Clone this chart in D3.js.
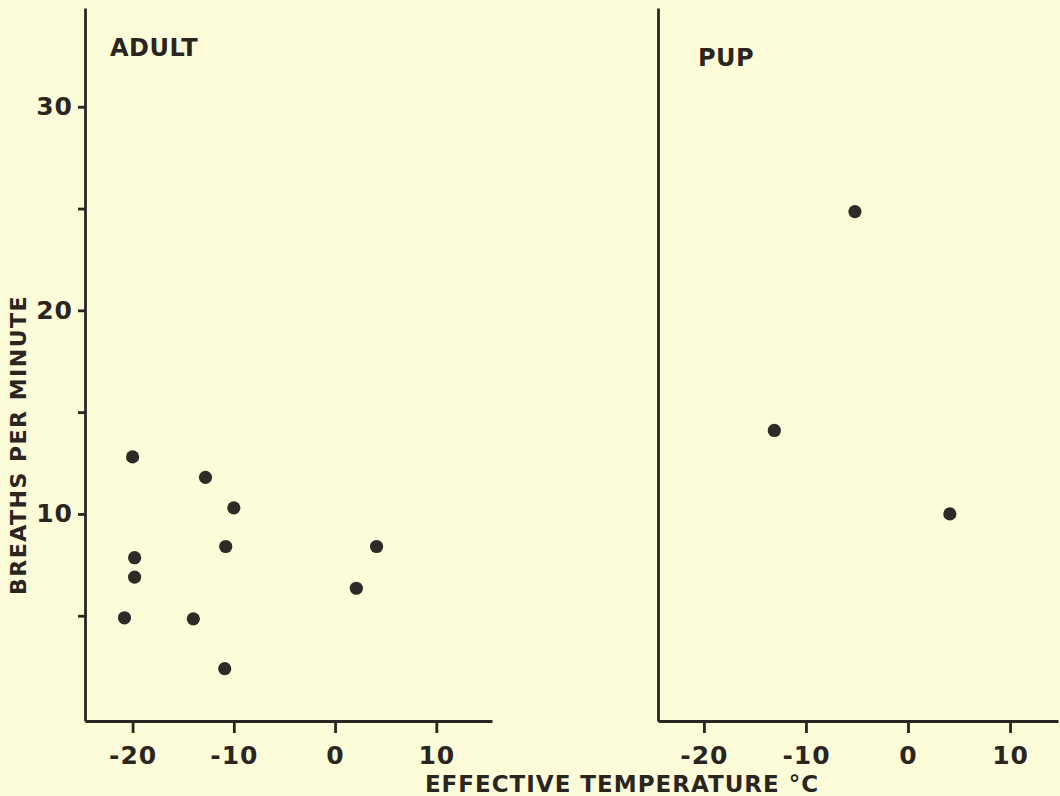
<!DOCTYPE html>
<html>
<head>
<meta charset="utf-8">
<script src="https://cdn.jsdelivr.net/npm/d3@7"></script>
<style>
  body { margin: 0; background: #fdfcd8; }
  svg { display: block; }
  .axis path, .axis line { stroke: #2b2522; stroke-width: 2.8; }
  .axis text { fill: #2b2522; font-family: "DejaVu Sans", sans-serif; font-weight: bold; font-size: 25px; letter-spacing: 1px; }
</style>
</head>
<body>
<div id="chart"></div>
<script>
// adult readings
var adultTemp = [-20, -12.8, -10.0, -10.8, 4.1, -19.8, -19.8, 2.1, -20.8, -14.0, -10.9];
var adultBreaths = [12.8, 11.8, 10.3, 8.4, 8.4, 7.85, 6.9, 6.35, 4.9, 4.85, 2.4];
// pup readings
var pupTemp = [-5.2, -13.1, 4.1];
var pupBreaths = [24.85, 14.1, 10.0];

var xTicks = [-20, -10, 0, 10];
var yTicks = [5, 10, 15, 20, 25, 30];

var ink = "#2b2522";
var width = 1060, height = 796;

var svg = d3.select("#chart").append("svg")
    .attr("width", width)
    .attr("height", height);

var y = d3.scaleLinear().domain([-0.17, 34.85]).range([721, 8]);

var panels = [
    { name: "ADULT", left: 85, right: 492, xdom: [-24.7, 15.5], temp: adultTemp, br: adultBreaths, labelX: 110, labelY: 56, yTicks: true },
    { name: "PUP", left: 658, right: 1058, xdom: [-24.5, 14.7], temp: pupTemp, br: pupBreaths, labelX: 698, labelY: 66, yTicks: false }
];

panels.forEach(function (p) {
    var x = d3.scaleLinear().domain(p.xdom).range([p.left, p.right]);

    var xAxis = svg.append("g")
        .attr("class", "axis")
        .attr("transform", "translate(0," + 721 + ")")
        .call(d3.axisBottom(x).tickValues(xTicks).tickSize(12).tickPadding(7)
            .tickSizeOuter(0)
            .tickFormat(function (d) { return d < 0 ? "-" + Math.abs(d) : d; }));
    xAxis.selectAll("text").attr("dy", "0.95em");

    var yAxis = svg.append("g")
        .attr("class", "axis")
        .attr("transform", "translate(" + p.left + ",0)");
    if (p.yTicks) {
        yAxis.call(d3.axisLeft(y).tickValues(yTicks).tickSize(7).tickPadding(5)
            .tickSizeOuter(0)
            .tickFormat(function (d) { return d % 10 === 0 ? d : ""; }));
    } else {
        yAxis.call(d3.axisLeft(y).tickValues([]).tickSizeOuter(0));
    }

    svg.append("text")
        .attr("x", p.labelX)
        .attr("y", p.labelY)
        .attr("fill", ink)
        .style("font", "bold 24px 'DejaVu Sans', sans-serif")
        .style("letter-spacing", "0.5px")
        .text(p.name);

    var pts = p.temp.map(function (t, i) { return { t: t, b: p.br[i] }; });
    svg.selectAll(".dot-" + p.name)
        .data(pts)
        .enter().append("circle")
        .attr("cx", function (d) { return x(d.t); })
        .attr("cy", function (d) { return y(d.b); })
        .attr("r", 6.6)
        .attr("fill", "#2f2a28");
});

svg.append("text")
    .attr("transform", "translate(26,445) rotate(-90)")
    .attr("text-anchor", "middle")
    .attr("fill", ink)
    .style("font", "bold 22px 'DejaVu Sans', sans-serif")
    .style("letter-spacing", "1.5px")
    .text("BREATHS PER MINUTE");

svg.append("text")
    .attr("x", 622)
    .attr("y", 792)
    .attr("text-anchor", "middle")
    .attr("fill", ink)
    .style("font", "bold 23px 'DejaVu Sans', sans-serif")
    .style("letter-spacing", "1px")
    .text("EFFECTIVE  TEMPERATURE \u00b0C");
</script>
</body>
</html>
